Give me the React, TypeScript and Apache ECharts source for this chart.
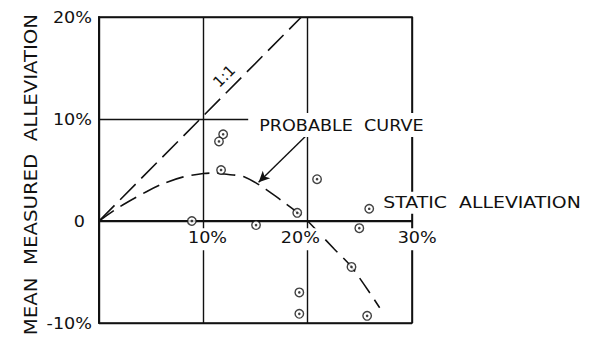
import React, { useEffect, useRef } from 'react';
import * as echarts from 'echarts';

// ---- data ----
const xTickValues = [10, 20, 30];
const xTickLabels = ['10%', '20%', '30%'];
const yTickValues = [20, 10, 0, -10];
const yTickLabels = ['20%', '10%', '0', '-10%'];

// measured points (x = static alleviation %, y = mean measured alleviation %)
const pointX = [8.9, 11.9, 11.5, 11.7, 15.05, 19.0, 20.9, 19.2, 19.2, 24.2, 24.95, 25.9, 25.7];
const pointY = [0.0, 8.5, 7.8, 5.0, -0.4, 0.8, 4.1, -7.0, -9.1, -4.5, -0.7, 1.2, -9.3];

// probable curve
const curveX = [0, 2, 4.5, 6, 8, 10, 11, 12, 14, 16, 17.5, 19.2, 20, 22.5, 24.2, 26.9];
const curveY = [0, 1.4, 2.85, 3.6, 4.3, 4.65, 4.7, 4.6, 4.3, 3.1, 2.0, 0.7, 0, -2.7, -4.5, -8.5];

// 1:1 line
const oneX = [0, 19.4];
const oneY = [0, 20];

// arrow from the "PROBABLE CURVE" note to the curve
const arrowFrom = [19.9, 8.4];
const arrowTo = [15.3, 3.8];

const FONT = '"DejaVu Sans", "Liberation Sans", sans-serif';
const INK = '#111';

export default function App() {
  const ref = useRef<HTMLDivElement | null>(null);

  useEffect(() => {
    if (!ref.current) return;
    const chart = echarts.init(ref.current, undefined, { renderer: 'svg' });

    const pts = pointX.map((x, i) => [x, pointY[i]]);
    const curve = curveX.map((x, i) => [x, curveY[i]]);
    const one = oneX.map((x, i) => [x, oneY[i]]);

    chart.setOption({
      animation: false,
      backgroundColor: '#fff',
      grid: {
        left: 99,
        right: 188,
        top: 17,
        bottom: 15,
        show: true,
        borderColor: INK,
        borderWidth: 1.6,
        backgroundColor: 'transparent',
      },
      xAxis: {
        type: 'value',
        min: 0,
        max: 30,
        interval: 10,
        axisLine: { onZero: true, lineStyle: { color: INK, width: 2 } },
        axisTick: { show: false },
        axisLabel: { show: false },
        splitLine: { show: true, lineStyle: { color: INK, width: 1.4 } },
      },
      yAxis: {
        type: 'value',
        min: -10,
        max: 20,
        interval: 10,
        axisLine: { show: true, onZero: false, lineStyle: { color: INK, width: 2 } },
        axisTick: { show: false },
        axisLabel: { show: false },
        splitLine: { show: true, lineStyle: { color: INK, width: 1.4 } },
      },
      series: [
        {
          type: 'line',
          data: one,
          symbol: 'none',
          lineStyle: { color: INK, width: 1.6, type: [22, 8] },
          z: 3,
        },
        {
          type: 'line',
          data: curve,
          smooth: 0.3,
          symbol: 'none',
          lineStyle: { color: INK, width: 1.6, type: [18, 8] },
          z: 3,
          markLine: {
            silent: true,
            symbol: ['none', 'arrow'],
            symbolSize: [8, 11],
            label: { show: false },
            lineStyle: { color: INK, width: 1.4, type: 'solid' },
            data: [[{ coord: arrowFrom }, { coord: arrowTo }]],
          },
        },
        {
          type: 'scatter',
          data: pts,
          symbol: 'circle',
          symbolSize: 8.5,
          itemStyle: { color: '#fff', borderColor: INK, borderWidth: 1.4 },
          z: 5,
        },
        {
          type: 'scatter',
          data: pts,
          symbol: 'circle',
          symbolSize: 2.6,
          itemStyle: { color: INK },
          z: 6,
        },
      ],
    });

    const px = (x: number, y: number) => chart.convertToPixel({ gridIndex: 0 }, [x, y]) as number[];

    // label anchors (data coords)
    const xLabelAnchorX = [10.4, 19.3, 30.5];
    const xLabelTopY = -0.7;
    const yLabelRightX = [-0.67, -0.67, -1.35, -0.67];

    const elements: any[] = [];
    xTickLabels.forEach((t, i) => {
      const [x, y] = px(xLabelAnchorX[i], xLabelTopY);
      elements.push({
        type: 'text',
        x,
        y,
        z: 100,
        scaleX: 1.1,
        style: {
          text: t,
          font: `16px ${FONT}`,
          fill: INK,
          align: 'center',
          verticalAlign: 'top',
          backgroundColor: '#fff',
          padding: [1, 2, 5, 2],
        },
      });
    });
    yTickLabels.forEach((t, i) => {
      const [x, y] = px(yLabelRightX[i], yTickValues[i]);
      elements.push({
        type: 'text',
        x,
        y,
        z: 100,
        scaleX: 1.1,
        style: {
          text: t,
          font: `16px ${FONT}`,
          fill: INK,
          align: 'right',
          verticalAlign: 'middle',
        },
      });
    });

    const [pcx, pcy] = px(14.3, 9.4);
    elements.push({
      type: 'text',
      x: pcx,
      y: pcy,
      z: 100,
      scaleX: 1.1,
      style: {
        text: 'PROBABLE  CURVE',
        font: `16px ${FONT}`,
        fill: INK,
        align: 'left',
        verticalAlign: 'middle',
        backgroundColor: '#fff',
        padding: [4, 2, 4, 10],
      },
    });

    const [sax, say] = px(26.8, 1.8);
    elements.push({
      type: 'text',
      x: sax,
      y: say,
      z: 100,
      scaleX: 1.18,
      style: {
        text: 'STATIC  ALLEVIATION',
        font: `16px ${FONT}`,
        fill: INK,
        align: 'left',
        verticalAlign: 'middle',
        backgroundColor: '#fff',
        padding: [3, 2, 3, 4],
      },
    });

    const [ox, oy] = px(12.0, 14.2);
    elements.push({
      type: 'text',
      x: ox,
      y: oy,
      z: 100,
      rotation: Math.PI / 4,
      style: {
        text: '1:1',
        font: `15px ${FONT}`,
        fill: INK,
        align: 'center',
        verticalAlign: 'middle',
      },
    });

    const [tx, ty] = px(-6.5, 4.55);
    elements.push({
      type: 'text',
      x: tx,
      y: ty,
      z: 100,
      rotation: Math.PI / 2,
      scaleX: 1.16,
      style: {
        text: 'MEAN  MEASURED  ALLEVIATION',
        font: `17px ${FONT}`,
        fill: INK,
        align: 'center',
        verticalAlign: 'middle',
      },
    });

    chart.setOption({ graphic: { elements } });

    return () => chart.dispose();
  }, []);

  return (
    <div
      ref={ref}
      style={{ position: 'fixed', left: 0, top: 0, width: 600, height: 338, background: '#fff' }}
    />
  );
}
